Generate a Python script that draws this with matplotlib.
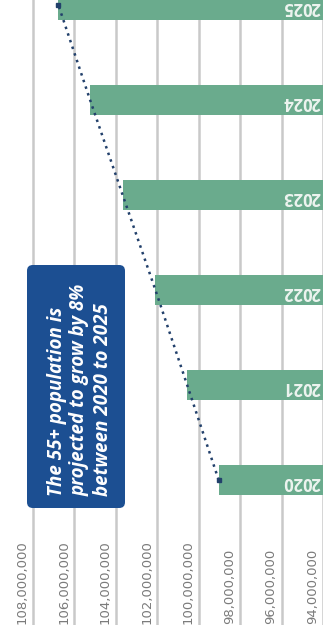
import matplotlib
matplotlib.use("Agg")
import matplotlib.pyplot as plt
import matplotlib.transforms as mtransforms
from matplotlib.patches import FancyBboxPatch

# ---- data ----
years = ["2020", "2021", "2022", "2023", "2024", "2025"]
population = [99.03e6, 100.55e6, 102.08e6, 103.66e6, 105.23e6, 106.76e6]
tick_values = [108e6, 106e6, 104e6, 102e6, 100e6, 98e6, 96e6, 94e6]
tick_labels = ["108,000,000", "106,000,000", "104,000,000", "102,000,000",
               "100,000,000", "98,000,000", "96,000,000", "94,000,000"]
note = "The 55+ population is\nprojected to grow by 8%\nbetween 2020 to 2025"

W, H = 323, 639
fig = plt.figure(figsize=(W / 100, H / 100), dpi=100)
ax = fig.add_axes([0, 14 / H, 1, 625 / H])

bar_color = "#6aab8d"
grid_color = "#c9c9c9"
line_color = "#22406b"
box_color = "#1c4f92"

ypos = list(range(len(years)))
base = 90e6
ax.barh(ypos, [v - base for v in population], left=base, height=0.32,
        color=bar_color, zorder=2)

ax.plot(population, ypos, linestyle=(0, (1, 1.8)), color=line_color,
        linewidth=1.8, zorder=3)
ax.plot([population[0], population[-1]], [ypos[0], ypos[-1]], linestyle="none",
        marker="s", markersize=3.5, color=line_color, zorder=3)

ax.set_xlim(109.575e6, 94.16e6)
ax.set_ylim(-1.526, 5.053)
ax.set_xticks(tick_values)
ax.set_yticks([])
ax.xaxis.grid(True, color=grid_color, linewidth=1.8, zorder=0)
ax.set_axisbelow(True)
ax.tick_params(axis="x", length=0, labelbottom=False)
for s in ax.spines.values():
    s.set_visible(False)

# tick labels (rotated, sitting beside gridlines)
trans_lab = mtransforms.offset_copy(
    mtransforms.blended_transform_factory(ax.transData, ax.transAxes),
    fig=fig, x=-7, y=1, units="dots")
for v, lab in zip(tick_values, tick_labels):
    ax.text(v, 0, lab, transform=trans_lab, rotation=90, rotation_mode="anchor",
            ha="left", va="baseline", fontsize=9.5, color="#7b7b7b",
            family="DejaVu Sans")

# year labels inside bars (upside down)
trans_year = mtransforms.offset_copy(
    mtransforms.blended_transform_factory(ax.transAxes, ax.transData),
    fig=fig, x=-3, y=-2, units="dots")
for y, yr in zip(ypos, years):
    ax.text(1, y, yr, transform=trans_year, rotation=180, rotation_mode="anchor",
            ha="left", va="center", fontsize=12, fontweight="bold",
            color="#eef4f0", family="Open Sans", zorder=4)

# annotation box
bx0, bx1 = 27, 125
by0, by1 = H - 508, H - 265
box = FancyBboxPatch((bx0 / W, by0 / H), (bx1 - bx0) / W, (by1 - by0) / H,
                     boxstyle="round,pad=0,rounding_size=0.018",
                     mutation_aspect=W / H,
                     transform=fig.transFigure, facecolor=box_color,
                     edgecolor="none", zorder=5)
fig.patches.append(box)
fig.text(80 / W, (H - 390) / H, note, rotation=90, ha="center", va="center",
         multialignment="left", fontsize=13.5, fontweight="bold", style="italic",
         color="white", family="Open Sans", linespacing=1.22, zorder=6)

fig.savefig("out.png", dpi=100)
